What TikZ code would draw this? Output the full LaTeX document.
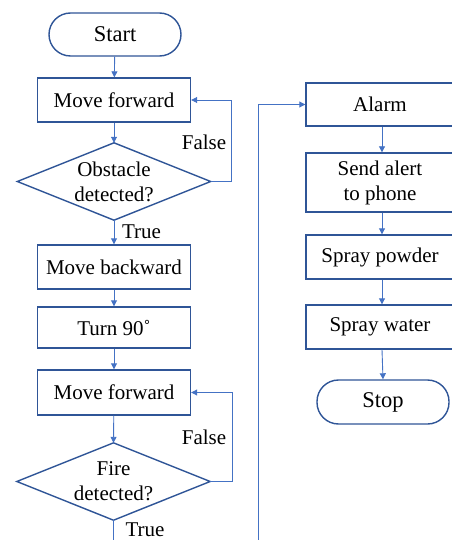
\documentclass[tikz,border=0pt]{standalone}
\usepackage{fontspec}
\setmainfont{Liberation Serif}
\usetikzlibrary{arrows.meta}
\definecolor{boxblue}{RGB}{47,85,151}
\definecolor{arrowblue}{RGB}{68,114,196}
\tikzset{
  base/.style={font=\fontsize{21}{25}\selectfont, align=center, inner sep=0pt, text=black},
  procbox/.style={base, draw=boxblue, line width=1.4pt, minimum width=153pt, minimum height=44pt},
  termbox/.style={base, font=\fontsize{22.5}{26}\selectfont, draw=boxblue, line width=1.4pt, rounded corners=21.5pt, minimum width=132pt, minimum height=43pt},
  decbox/.style={base, minimum width=193pt, minimum height=77pt},
  decline/.style={draw=boxblue, line width=1.4pt, line join=miter},
  flow/.style={draw=arrowblue, line width=0.9pt, -{Triangle[length=6pt,width=6pt]}},
  plainflow/.style={draw=arrowblue, line width=0.9pt},
  lbl/.style={base}
}
\begin{document}
\begin{tikzpicture}[x=1pt,y=-1pt]
\useasboundingbox (0,0) rectangle (451,540);
% left column
\node[termbox] (start) at (115,34.5) {Start};
\node[procbox] (mf1) at (114,100) {Move forward};
\node[decbox] (obs) at (114,181.5) {Obstacle\\detected?};
\draw[decline] (obs.north) -- (obs.east) -- (obs.south) -- (obs.west) -- cycle;
\node[procbox] (mb) at (114,267) {Move backward};
\node[procbox, minimum height=41pt] (turn) at (114,327.5) {Turn 90˚};
\node[procbox, minimum height=45pt] (mf2) at (114,392.5) {Move forward};
\node[decbox] (fire) at (113.5,481.5) {Fire\\detected?};
\draw[decline] (fire.north) -- (fire.east) -- (fire.south) -- (fire.west) -- cycle;
\coordinate (leftout) at (fire.south |- 0,548);
\coordinate (rightin) at (258,548);
% right column
\node[procbox, minimum width=148pt, minimum height=43pt] (alarm) at (380,104.5) {Alarm};
\node[procbox, minimum width=148pt, minimum height=59pt] (send) at (380,182.5) {Send alert\\to phone};
\node[procbox, minimum width=148pt, minimum height=44pt] (powder) at (380,257) {Spray powder};
\node[procbox, minimum width=148pt, minimum height=44pt] (water) at (380,327) {Spray water};
\node[termbox, minimum height=44pt] (stop) at (383,402) {Stop};
% connectors
\draw[flow] (start) -- (mf1);
\draw[flow] (mf1) -- (obs.north);
\draw[flow] (obs.east) -- ++(21,0) |- (mf1.east);
\node[lbl] (f1) at (204,142) {False};
\draw[flow] (obs.south) -- (mb.north);
\node[lbl] (t1) at (141.5,232) {True};
\draw[flow] (mb) -- (turn);
\draw[flow] (turn) -- (mf2);
\draw[flow] (mf2) -- (fire.north);
\draw[flow] (fire.east) -- ++(22,0) |- (mf2.east);
\node[lbl] (f2) at (204,437) {False};
\draw[plainflow] (fire.south) -- (leftout);
\node[lbl] (t2) at (145,530) {True};
\draw[flow] (rightin) |- (alarm.west);
\draw[flow] (alarm.south -| 382,0) -- (send.north -| 382,0);
\draw[flow] (send.south -| 382,0) -- (powder.north -| 382,0);
\draw[flow] (powder.south -| 382,0) -- (water.north -| 382,0);
\draw[flow] (water.south -| 382,0) -- (stop.north);
\end{tikzpicture}
\end{document}
